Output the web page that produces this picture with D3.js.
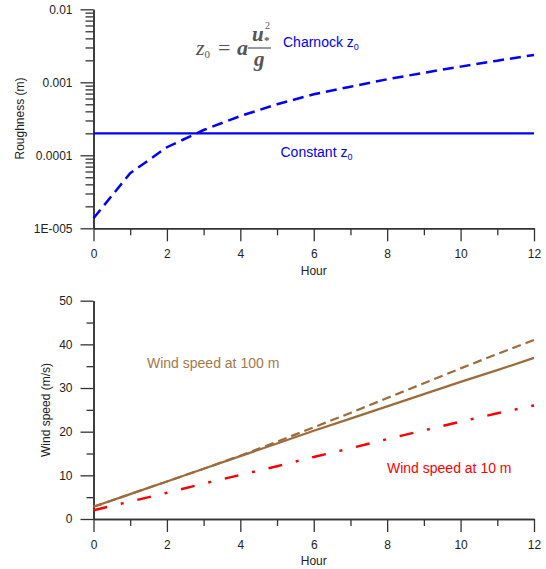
<!DOCTYPE html>
<html><head><meta charset="utf-8">
<script src="https://cdn.jsdelivr.net/npm/d3@7"></script>
<style>body{margin:0;background:#fff}svg{display:block}text{font-family:"Liberation Sans",Arial,sans-serif}text.serif{font-family:"Liberation Serif","DejaVu Serif",serif}</style>
</head><body>
<svg id="c" width="546" height="569"></svg>
<script>
// ---- data ----
const hours = [0,1,2,3,4,5,6,7,8,9,10,11,12];
const charnockZ0 = [1.37e-5,5.7e-5,1.29e-4,2.22e-4,3.45e-4,5.0e-4,6.85e-4,8.7e-4,1.10e-3,1.35e-3,1.64e-3,1.98e-3,2.37e-3];
const constantZ0 = [2e-4,2e-4,2e-4,2e-4,2e-4,2e-4,2e-4,2e-4,2e-4,2e-4,2e-4,2e-4,2e-4];
const wind100Const = [2.8,5.7,8.6,11.5,14.4,17.3,20.2,23.0,25.8,28.6,31.4,34.1,36.9];
const wind100Charnock = [2.8,5.7,8.6,11.5,14.5,17.7,21.0,24.3,27.7,31.1,34.5,37.8,41.0];
const wind10 = [2.0,4.0,6.0,8.1,10.1,12.1,14.2,16.2,18.3,20.3,22.3,24.2,26.0];
const xTicks = [0,2,4,6,8,10,12];
const xMinor = [1,3,5,7,9,11];
const roughTicks = [1e-5,1e-4,1e-3,1e-2];
const roughTickLabels = ["1E-005","0.0001","0.001","0.01"];
const windTicks = [0,10,20,30,40,50];
const windMinor = [5,15,25,35,45];

(function(){
const svg = d3.select("#c");
const axisColor = "#333";
const blue = "#0000ff", brown = "#9e6b3c", brownText = "#a5784a", red = "#ff0000";

const x = d3.scaleLinear().domain([0,12]).range([93.5,534]);
const yTop = d3.scaleLog().domain([1e-5,1e-2]).range([228.3,9.3]);
const yBot = d3.scaleLinear().domain([0,50]).range([519,300.7]);

function styleAxis(g){
  g.selectAll("path.domain").attr("stroke",axisColor).attr("stroke-width",1.5);
  g.selectAll(".tick line").attr("stroke",axisColor).attr("stroke-width",1.3);
  g.selectAll(".tick text").attr("fill","#222").style("font-size","12px").style("font-family","'Liberation Sans',Arial,sans-serif");
}

const logMinor = [];
[1e-5,1e-4,1e-3].forEach(d=>{for(let k=2;k<=9;k++) logMinor.push(d*k);});

// ---- top chart ----
const gTop = svg.append("g");
gTop.append("g").attr("transform","translate(93.5,0)")
  .call(d3.axisLeft(yTop).tickValues(logMinor).tickSize(8).tickFormat("").tickSizeOuter(0)).call(styleAxis);
gTop.append("g").attr("transform","translate(93.5,0)")
  .call(d3.axisLeft(yTop).tickValues(roughTicks).tickSize(13).tickPadding(8).tickSizeOuter(0)
    .tickFormat((d,i)=>roughTickLabels[i])).call(styleAxis);
gTop.append("g").attr("transform","translate(0,228.3)")
  .call(d3.axisBottom(x).tickValues(xMinor).tickSize(7).tickFormat("").tickSizeOuter(0)).call(styleAxis);
gTop.append("g").attr("transform","translate(0,228.3)")
  .call(d3.axisBottom(x).tickValues(xTicks).tickSize(13).tickPadding(8).tickSizeOuter(0).tickFormat(d3.format("d"))).call(styleAxis);
gTop.append("text").attr("x",x(6)).attr("y",275).attr("text-anchor","middle").attr("fill","#222").style("font-size","12px").text("Hour");
gTop.append("text").attr("transform","translate(24,118.5) rotate(-90)").attr("text-anchor","middle").attr("fill","#222").style("font-size","12px").text("Roughness (m)");

const lineTop = d3.line().x((d,i)=>x(hours[i])).y(d=>yTop(d));
gTop.append("path").datum(constantZ0).attr("d",lineTop).attr("fill","none").attr("stroke",blue).attr("stroke-width",2.2);
gTop.append("path").datum(charnockZ0).attr("d",lineTop).attr("fill","none").attr("stroke",blue).attr("stroke-width",2.5).attr("stroke-dasharray","11,6");

const t1 = gTop.append("text").attr("x",283).attr("y",47).attr("fill",blue).style("font-size","14px");
t1.append("tspan").text("Charnock z");
t1.append("tspan").attr("dy",3).style("font-size","9px").text("0");
const t2 = gTop.append("text").attr("x",280.5).attr("y",157).attr("fill",blue).style("font-size","14px");
t2.append("tspan").text("Constant z");
t2.append("tspan").attr("dy",3).style("font-size","9px").text("0");

// formula
const fm = gTop.append("g").attr("fill","#555");
const fz = fm.append("text").attr("class","serif").attr("x",196).attr("y",55).style("font-size","22px").style("font-style","italic");
fz.append("tspan").text("z");
fz.append("tspan").attr("dy",3).style("font-size","11px").style("font-style","normal").text("0");
fm.append("text").attr("class","serif").attr("x",218).attr("y",55).style("font-size","22px").text("=");
fm.append("text").attr("class","serif").attr("x",237).attr("y",55).style("font-size","22px").style("font-style","italic").style("font-weight","bold").text("a");
fm.append("text").attr("class","serif").attr("x",252).attr("y",41).style("font-size","21px").style("font-style","italic").style("font-weight","bold").text("u");
fm.append("text").attr("class","serif").attr("x",264).attr("y",44).style("font-size","11px").style("font-weight","bold").text("*");
fm.append("text").attr("class","serif").attr("x",265).attr("y",29).style("font-size","10px").text("2");
fm.append("line").attr("x1",248).attr("x2",271).attr("y1",48).attr("y2",48).attr("stroke","#555").attr("stroke-width",1.2);
fm.append("text").attr("class","serif").attr("x",254).attr("y",66).style("font-size","21px").style("font-style","italic").style("font-weight","bold").text("g");

// ---- bottom chart ----
const gBot = svg.append("g");
gBot.append("g").attr("transform","translate(93.5,0)")
  .call(d3.axisLeft(yBot).tickValues(windMinor).tickSize(7).tickFormat("").tickSizeOuter(0)).call(styleAxis);
gBot.append("g").attr("transform","translate(93.5,0)")
  .call(d3.axisLeft(yBot).tickValues(windTicks).tickSize(13).tickPadding(8).tickSizeOuter(0).tickFormat(d3.format("d"))).call(styleAxis);
gBot.append("g").attr("transform","translate(0,519)")
  .call(d3.axisBottom(x).tickValues(xMinor).tickSize(7).tickFormat("").tickSizeOuter(0)).call(styleAxis);
gBot.append("g").attr("transform","translate(0,519)")
  .call(d3.axisBottom(x).tickValues(xTicks).tickSize(13).tickPadding(8).tickSizeOuter(0).tickFormat(d3.format("d"))).call(styleAxis);
gBot.append("text").attr("x",x(6)).attr("y",565).attr("text-anchor","middle").attr("fill","#222").style("font-size","12px").text("Hour");
gBot.append("text").attr("transform","translate(50,410) rotate(-90)").attr("text-anchor","middle").attr("fill","#222").style("font-size","12px").text("Wind speed (m/s)");

const lineBot = d3.line().x((d,i)=>x(hours[i])).y(d=>yBot(d));
gBot.append("path").datum(wind100Charnock).attr("d",lineBot).attr("fill","none").attr("stroke",brown).attr("stroke-width",2.2).attr("stroke-dasharray","9,5");
gBot.append("path").datum(wind100Const).attr("d",lineBot).attr("fill","none").attr("stroke",brown).attr("stroke-width",2.2);
gBot.append("path").datum(wind10).attr("d",lineBot).attr("fill","none").attr("stroke",red).attr("stroke-width",2.5).attr("stroke-dasharray","14,14,3,14");

gBot.append("text").attr("x",147).attr("y",368).attr("fill",brownText).style("font-size","14px").text("Wind speed at 100 m");
gBot.append("text").attr("x",387).attr("y",473).attr("fill",red).style("font-size","14px").text("Wind speed at 10 m");
})();
</script>
</body></html>
